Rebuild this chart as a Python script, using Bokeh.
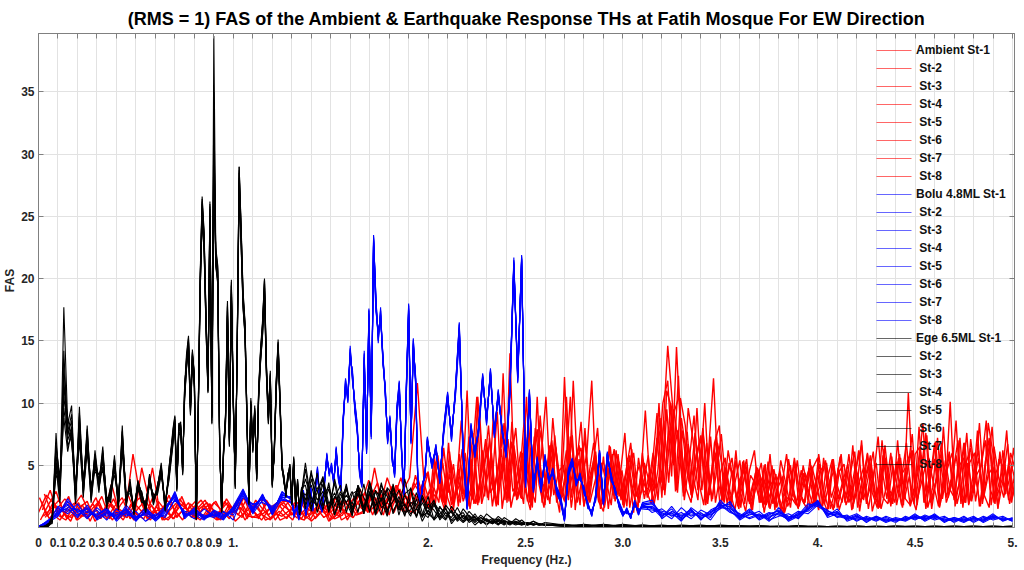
from bokeh.plotting import figure
from bokeh.models import (Range1d, FixedTicker, LinearAxis, Legend, LegendItem,
                          CustomJSTickFormatter, BoxAnnotation)
from bokeh.embed import file_html
from bokeh.resources import INLINE

# ---------------------------------------------------------------- texts
TITLE = "(RMS = 1) FAS of the Ambient & Earthquake Response THs at Fatih Mosque For EW Direction"
X_LABEL = "Frequency (Hz.)"
Y_LABEL = "FAS"

X_GRID_TICKS = [round(0.1 * i, 1) for i in range(51)]
X_LABELED = [0.0, 0.1, 0.2, 0.3, 0.4, 0.5, 0.6, 0.7, 0.8, 0.9, 1.0, 2.0, 2.5, 3.0, 3.5, 4.0, 4.5, 5.0]
X_LABEL_TEXT = ["0", "0.1", "0.2", "0.3", "0.4", "0.5", "0.6", "0.7", "0.8", "0.9", "1.",
                "2.", "2.5", "3.0", "3.5", "4.", "4.5", "5."]
Y_TICKS = [5, 10, 15, 20, 25, 30, 35]

GROUPS = ["Ambient", "Bolu 4.8ML", "Ege 6.5ML"]
STATIONS = ["St-1", "St-2", "St-3", "St-4", "St-5", "St-6", "St-7", "St-8"]


# ---------------------------------------------------------------- frequency sampling (Hz)
def sample_grid(start, step, count):
    return [round(start + step * i, 4) for i in range(count)]


RED_FREQ = sample_grid(0.0, 0.04, 50) + sample_grid(2.0, 0.025, 121)
RED_OFFSET = [0.0, 0.005, 0.010, 0.015, 0.020, 0.025, 0.030, 0.035]
BLUE_FREQ = (sample_grid(0.0, 0.05, 26) + sample_grid(1.30, 0.012, 59)
             + sample_grid(2.02, 0.02, 55) + sample_grid(3.15, 0.05, 38))
BLACK_FREQ = (sample_grid(0.01, 0.02, 35) + sample_grid(0.70, 0.01, 66)
              + sample_grid(1.37, 0.03, 42) + sample_grid(2.70, 0.1, 24))

# ---------------------------------------------------------------- Ambient (red) FAS
AMB_ST1 = [1.2, 2.6, 1.9, 0.8, 1.5, 0.6, 1.1, 1.9, 0.7, 2.2, 1.4, 0.9, 1.8, 2.4, 0.6, 1.3, 1.6, 0.9, 2.0, 1.5,
           0.8, 1.4, 1.9, 0.6, 1.0, 1.5, 2.1, 0.9, 0.8, 1.2, 1.7, 0.6, 0.9, 1.3, 2.0, 0.5, 1.1, 1.8, 0.7, 1.0,
           2.2, 1.1, 1.4, 3.0, 2.6, 1.0, 3.4, 1.6, 2.8, 1.9,
           4.5, 1.8, 3.1, 5.2, 2.4, 1.2, 3.9, 2.7, 11.0, 2.2, 6.4, 1.9, 3.6, 6.0, 2.0, 4.1, 7.4, 1.6, 3.5, 6.1,
           2.9, 1.4, 8.0, 4.6, 1.8, 6.6, 3.3, 1.2, 12.1, 3.0, 5.1, 6.6, 1.7, 3.8, 5.4, 2.1, 1.3, 4.8, 2.6, 5.9,
           1.8, 4.4, 3.0, 1.2, 5.5, 2.4, 3.6, 7.2, 2.4, 9.5, 4.1, 14.5, 6.3, 3.1, 2.0, 5.8, 7.4, 1.8, 3.9, 5.9,
           1.5, 4.8, 2.9, 1.4, 3.9, 4.6, 1.9, 2.8, 4.6, 1.2, 3.3, 3.8, 2.2, 1.0, 4.4, 2.6, 1.5, 5.0, 3.1, 1.8,
           4.2, 2.3, 1.3, 5.4, 3.4, 2.0, 4.6, 1.4, 2.9, 7.0, 2.1, 3.6, 5.2, 1.5, 3.1, 6.0, 2.2, 4.1, 4.8, 1.7,
           3.2, 6.4, 2.0, 4.3, 5.5, 1.6, 3.7, 6.1, 2.5, 4.9, 5.6, 1.9, 3.4, 5.6, 2.3, 4.2, 4.9, 1.5, 6.2, 3.3,
           5.0]
AMB_ST2 = [2.4, 0.9, 1.7, 1.3, 0.5, 2.0, 0.8, 1.4, 2.5, 0.7, 1.6, 1.1, 5.9, 2.2, 0.8, 1.7, 0.6, 1.0, 2.3, 1.4,
           2.1, 0.7, 1.6, 1.0, 2.3, 1.3, 0.8, 2.0, 1.7, 0.6, 0.9, 1.9, 1.4, 0.8, 0.6, 2.2, 1.5, 0.9, 2.4, 1.3,
           1.0, 2.7, 1.3, 4.8, 1.5, 2.9, 2.1, 1.2, 3.6, 2.6,
           1.6, 5.6, 3.2, 2.0, 6.8, 1.4, 4.7, 2.1, 3.3, 7.6, 1.8, 6.2, 2.4, 3.9, 9.3, 1.5, 4.2, 6.9, 2.2, 3.4,
           10.5, 1.9, 5.1, 7.8, 2.6, 3.5, 6.5, 2.0, 4.4, 10.5, 1.4, 5.0, 7.1, 2.0, 3.6, 5.2, 1.6, 4.1, 6.3, 2.5,
           3.8, 4.9, 1.2, 5.6, 2.8, 3.2, 6.0, 2.2, 7.6, 14.6, 9.8, 2.8, 7.8, 4.4, 2.4, 9.6, 3.0, 6.8, 2.1, 4.4,
           7.5, 3.2, 1.6, 5.4, 2.7, 1.3, 4.2, 3.5, 2.0, 5.1, 1.5, 3.4, 4.4, 1.2, 2.7, 5.6, 2.9, 1.9, 4.8, 3.0,
           1.4, 5.6, 2.6, 1.4, 4.8, 3.3, 2.2, 6.6, 1.6, 3.8, 5.9, 1.3, 2.9, 4.7, 2.3, 5.7, 1.8, 3.9, 6.8, 2.6,
           1.4, 4.5, 7.6, 2.0, 3.6, 5.2, 2.8, 10.1, 1.7, 4.0, 6.8, 2.1, 3.5, 8.4, 2.6, 1.6, 6.5, 3.9, 2.4, 5.2,
           3.0]
AMB_ST3 = [0.6, 1.8, 2.9, 1.1, 0.8, 1.6, 2.1, 0.5, 1.3, 1.9, 0.7, 1.5, 0.6, 4.8, 2.0, 1.0, 1.7, 0.7, 1.2, 2.0,
           0.6, 1.8, 0.9, 1.3, 2.0, 0.5, 1.1, 1.6, 0.7, 2.2, 1.2, 0.9, 1.4, 2.0, 0.7, 1.2, 1.9, 0.5, 1.0, 2.1,
           1.4, 3.1, 1.2, 2.4, 1.0, 3.3, 1.7, 2.5, 1.1, 2.9,
           1.5, 5.3, 2.7, 1.4, 6.1, 2.3, 3.4, 5.0, 1.7, 6.6, 2.0, 4.3, 8.2, 3.1, 1.8, 12.4, 2.6, 6.7, 2.3, 5.5,
           3.8, 1.6, 10.5, 2.0, 4.9, 7.0, 2.4, 3.6, 6.2, 1.6, 4.7, 8.5, 2.2, 3.7, 6.1, 1.5, 3.2, 5.1, 2.1, 4.0,
           7.6, 1.6, 3.9, 5.0, 2.3, 4.4, 2.9, 10.0, 3.0, 8.1, 5.0, 12.2, 2.5, 6.7, 4.1, 2.2, 8.0, 1.9, 5.2, 6.3,
           2.4, 4.1, 5.6, 2.0, 3.1, 4.7, 1.4, 3.6, 5.2, 1.8, 2.9, 4.3, 1.3, 3.5, 5.0, 2.0, 2.7, 4.4, 1.6, 3.4,
           5.1, 1.9, 3.7, 4.6, 1.4, 2.8, 5.9, 2.1, 3.5, 4.8, 1.5, 3.9, 7.3, 2.4, 1.9, 5.0, 3.2, 1.6, 4.4, 7.5,
           2.2, 3.8, 5.4, 1.5, 4.1, 6.1, 2.0, 3.3, 5.8, 2.8, 2.0, 7.1, 4.0, 1.7, 5.3, 6.7, 2.2, 3.9, 5.1, 1.9,
           4.2]
AMB_ST4 = [2.1, 0.7, 1.5, 2.3, 1.6, 0.9, 1.3, 2.4, 0.8, 3.5, 1.1, 0.8, 1.9, 1.2, 0.6, 2.1, 1.3, 0.7, 2.5, 1.0,
           1.5, 2.2, 1.0, 0.6, 1.8, 1.3, 2.4, 0.8, 1.1, 2.0, 0.6, 1.5, 2.3, 0.8, 1.6, 1.1, 2.4, 0.6, 1.7, 1.2,
           0.8, 1.8, 3.8, 1.1, 2.2, 1.6, 3.1, 1.3, 4.2, 2.0,
           3.0, 2.4, 4.6, 1.6, 5.4, 3.3, 2.0, 6.0, 1.5, 4.1, 9.0, 2.5, 7.2, 3.0, 5.2, 8.4, 2.1, 6.6, 4.0, 1.9,
           8.6, 2.6, 5.9, 3.5, 2.2, 8.8, 4.3, 2.6, 5.0, 7.4, 2.0, 3.8, 6.0, 11.8, 2.4, 5.2, 3.7, 1.8, 6.2, 2.2,
           4.5, 6.8, 2.5, 3.6, 9.4, 3.2, 5.4, 8.8, 2.6, 7.1, 9.4, 10.6, 2.2, 5.3, 9.0, 3.6, 1.8, 6.2, 12.0, 3.5,
           2.1, 6.2, 3.9, 1.7, 5.3, 2.6, 1.4, 4.8, 3.7, 2.2, 5.0, 1.6, 3.3, 5.9, 2.4, 1.8, 4.6, 2.8, 5.0, 2.3,
           3.6, 5.4, 1.5, 3.0, 5.7, 2.0, 4.2, 6.1, 1.3, 3.9, 5.3, 2.6, 1.7, 6.3, 2.0, 3.4, 5.6, 1.8, 10.8, 2.6,
           4.5, 8.4, 1.6, 3.2, 7.2, 2.3, 4.7, 6.0, 1.9, 3.6, 7.6, 2.1, 4.2, 5.0, 8.6, 1.8, 4.4, 5.5, 2.7, 6.0,
           4.6]
AMB_ST5 = [1.4, 3.0, 1.0, 0.6, 1.7, 2.6, 1.2, 0.9, 1.5, 0.6, 1.8, 2.6, 1.1, 0.7, 1.8, 0.9, 2.2, 1.4, 0.6, 1.9,
           1.2, 0.8, 2.0, 1.4, 0.7, 1.9, 0.6, 1.5, 2.3, 1.0, 1.6, 2.0, 1.0, 1.6, 2.3, 0.7, 1.4, 2.0, 0.9, 1.5,
           2.4, 1.5, 2.2, 3.6, 1.3, 2.1, 4.0, 1.7, 2.4, 3.5,
           1.4, 6.0, 2.1, 4.4, 1.8, 3.0, 8.6, 2.5, 5.5, 1.9, 4.0, 7.1, 2.8, 3.6, 5.9, 2.2, 14.0, 2.5, 4.1, 9.0,
           2.0, 7.3, 3.4, 1.6, 6.4, 2.6, 4.5, 5.0, 2.2, 11.8, 3.6, 6.2, 2.0, 4.9, 8.0, 1.9, 3.3, 5.9, 2.6, 4.6,
           1.7, 6.3, 2.5, 4.2, 3.0, 1.9, 5.5, 8.4, 4.6, 10.0, 2.9, 10.4, 8.2, 3.3, 7.6, 4.0, 10.0, 2.6, 6.8, 8.2,
           2.0, 5.2, 3.4, 1.5, 5.4, 2.1, 3.7, 4.5, 1.6, 5.3, 1.9, 3.2, 4.1, 1.7, 2.6, 5.4, 2.2, 1.5, 4.9, 3.3,
           1.5, 5.2, 2.4, 3.8, 5.9, 1.8, 2.9, 5.1, 2.0, 3.6, 5.8, 2.4, 1.6, 6.6, 3.0, 2.0, 5.9, 2.3, 4.1, 1.9,
           8.1, 2.0, 5.6, 3.4, 1.7, 8.1, 2.4, 4.5, 7.0, 1.6, 5.2, 2.9, 7.8, 1.9, 4.4, 8.1, 2.5, 3.8, 7.8, 2.0,
           4.4]
AMB_ST6 = [0.9, 1.5, 2.2, 0.7, 1.2, 1.8, 0.5, 1.9, 1.1, 2.3, 0.9, 1.3, 0.8, 1.6, 4.8, 1.0, 0.6, 1.3, 2.0, 0.8,
           1.5, 2.0, 1.2, 0.7, 1.7, 1.0, 2.2, 1.3, 0.6, 1.5, 2.0, 1.2, 0.6, 2.1, 1.0, 1.6, 0.8, 1.3, 2.2, 0.6,
           1.7, 2.5, 1.4, 2.0, 3.0, 1.2, 2.8, 4.0, 11.6, 2.2,
           3.6, 5.8, 2.2, 4.0, 1.9, 3.1, 6.3, 2.6, 5.2, 10.5, 2.3, 6.8, 3.9, 1.7, 6.3, 3.0, 5.2, 8.0, 2.4, 6.5,
           3.3, 2.0, 9.0, 4.1, 1.9, 7.4, 3.2, 2.1, 6.7, 2.7, 5.5, 1.7, 4.2, 6.8, 2.2, 5.7, 1.5, 4.9, 3.4, 2.2,
           5.6, 3.1, 1.6, 6.0, 2.6, 4.8, 9.2, 3.6, 11.0, 9.6, 3.0, 8.8, 6.0, 2.6, 5.4, 7.2, 2.4, 7.3, 2.0, 4.4,
           5.6, 1.7, 3.6, 5.4, 1.9, 4.6, 6.2, 2.0, 5.0, 1.6, 4.7, 2.5, 1.3, 5.5, 3.0, 1.6, 4.4, 2.2, 4.8, 5.6,
           1.7, 4.0, 5.5, 1.6, 3.2, 4.4, 2.2, 5.0, 6.6, 1.9, 4.8, 2.4, 3.7, 5.6, 1.7, 4.2, 5.6, 2.3, 1.8, 5.9,
           6.5, 2.3, 3.6, 6.8, 1.7, 4.1, 5.7, 2.2, 3.4, 6.8, 1.8, 4.5, 6.2, 2.4, 8.4, 5.9, 1.6, 3.7, 6.7, 2.5,
           3.9]
AMB_ST7 = [2.7, 1.1, 0.6, 1.6, 2.0, 0.9, 1.4, 2.1, 0.7, 1.7, 2.4, 0.7, 1.5, 2.2, 0.9, 1.2, 2.6, 0.8, 1.6, 1.1,
           0.6, 1.5, 2.1, 0.9, 1.4, 2.4, 0.7, 1.8, 1.0, 0.6, 1.9, 2.2, 1.3, 0.7, 1.9, 1.0, 1.6, 0.7, 1.4, 2.2,
           1.0, 1.2, 2.4, 1.6, 4.0, 2.2, 1.3, 2.7, 3.8, 1.5,
           3.2, 2.0, 6.4, 2.8, 5.1, 1.7, 5.9, 3.0, 2.3, 10.5, 4.8, 6.0, 1.7, 4.4, 7.6, 2.0, 8.5, 3.4, 2.3, 6.8,
           1.8, 4.2, 5.6, 10.5, 2.5, 6.4, 3.6, 2.0, 7.3, 4.5, 1.8, 8.0, 2.4, 5.6, 3.9, 1.8, 6.6, 2.3, 5.3, 1.6,
           4.3, 6.0, 2.1, 3.4, 5.8, 2.0, 4.7, 10.0, 11.8, 5.2, 7.8, 4.0, 7.7, 2.5, 4.6, 6.6, 2.1, 3.9, 7.5, 2.5,
           4.9, 2.0, 6.2, 1.6, 5.2, 2.2, 4.4, 3.3, 1.8, 5.9, 1.4, 4.6, 2.6, 2.2, 5.3, 1.7, 3.6, 4.6, 2.0, 5.9,
           3.0, 1.5, 5.5, 2.3, 3.8, 5.1, 1.5, 4.4, 2.3, 6.0, 2.8, 1.6, 7.0, 3.1, 2.0, 5.3, 1.8, 4.2, 6.0, 2.4,
           5.8, 1.5, 4.1, 6.9, 2.0, 5.4, 3.0, 2.3, 7.2, 2.0, 5.2, 6.0, 1.7, 4.3, 7.2, 2.0, 5.5, 4.8, 2.2, 6.4,
           3.6]
AMB_ST8 = [0.8, 2.0, 1.3, 2.5, 0.6, 1.6, 1.2, 0.8, 2.0, 1.3, 0.6, 1.9, 0.8, 1.3, 2.7, 0.6, 1.4, 2.1, 0.9, 1.6,
           2.2, 1.1, 0.6, 2.1, 1.2, 1.6, 0.9, 2.2, 1.4, 0.7, 1.3, 0.7, 2.0, 1.1, 0.6, 1.8, 1.2, 2.3, 0.6, 1.0,
           1.9, 2.8, 1.0, 2.6, 1.5, 3.4, 1.8, 1.2, 2.9, 4.4,
           1.7, 4.4, 1.8, 4.3, 2.0, 5.9, 2.4, 7.3, 1.9, 3.2, 5.4, 2.2, 9.1, 2.6, 4.8, 7.1, 2.9, 3.6, 6.0, 2.1,
           5.2, 7.9, 2.4, 4.0, 6.6, 2.0, 3.8, 10.5, 2.4, 5.5, 6.4, 2.2, 4.1, 5.8, 1.9, 3.3, 6.5, 2.6, 4.7, 2.1,
           5.8, 3.1, 2.0, 5.2, 3.6, 1.9, 4.0, 8.6, 3.6, 9.5, 6.8, 2.8, 9.6, 7.0, 3.0, 7.9, 4.2, 2.3, 6.8, 5.0,
           1.9, 4.6, 2.3, 4.0, 5.5, 1.5, 4.9, 2.0, 4.5, 2.8, 1.8, 5.4, 3.6, 1.6, 4.9, 2.6, 2.0, 5.5, 1.7, 4.5,
           5.0, 2.2, 1.6, 4.5, 5.1, 2.0, 3.4, 6.2, 2.2, 4.1, 6.1, 1.5, 5.8, 3.3, 1.9, 7.0, 2.3, 5.4, 6.2, 1.8,
           4.8, 7.4, 2.0, 4.0, 6.8, 2.4, 3.9, 8.6, 1.9, 5.1, 6.4, 2.1, 4.6, 7.0, 3.1, 1.9, 6.1, 2.6, 5.6, 4.0,
           2.8]

# ---------------------------------------------------------------- Bolu 4.8ML (blue) FAS
BOLU_ST1 = [0.05, 0.3, 1.2, 1.8, 1.0, 1.5, 0.7, 1.3, 0.8, 1.6, 0.6, 1.2, 0.7, 1.5, 2.6, 0.9, 1.3, 0.7, 1.2, 0.8,
            1.4, 2.9, 1.6, 2.5, 1.3, 2.7,
            2.2, 1.0, 1.8, 0.7, 1.5, 2.8, 1.1, 2.0, 3.2, 1.6, 3.0, 4.6, 2.0, 1.4, 3.6, 5.7, 4.4, 4.9, 3.6, 6.2,
            4.0, 3.2, 8.6, 11.6, 10.4, 14.1, 12.1, 9.7, 8.0, 4.5, 3.5, 13.7, 6.2, 17.2, 7.5, 23.5, 18.0, 15.3,
            17.2, 13.5, 11.0, 7.0, 8.6, 5.5, 4.3, 9.4, 11.4, 6.0, 2.7, 11.0, 17.8, 7.0, 14.8, 11.8, 3.0, 1.9,
            3.4, 4.3, 7.0,
            5.0, 6.4, 3.8, 7.8, 10.6, 7.3, 10.9, 16.1, 5.9, 1.6, 8.1, 5.9, 8.0, 12.1, 8.6, 12.5, 7.5, 10.8, 7.8,
            5.9, 11.0, 21.5, 12.0, 21.9, 3.5, 10.8, 3.1, 5.4, 3.1, 5.6, 3.8, 4.5, 3.0, 2.2, 0.6, 4.4, 5.4, 3.6,
            4.1, 3.0, 1.8, 1.1, 2.4, 6.2, 2.0, 5.9, 4.0, 3.0, 1.8, 1.0, 1.4, 0.8, 2.0, 1.2, 1.8,
            1.9, 0.9, 1.5, 0.6, 1.3, 0.8, 1.1, 2.0, 1.6, 0.7, 1.3, 0.6, 1.0, 1.4, 0.5, 0.9, 1.7, 2.1, 1.0, 1.3,
            0.6, 0.9, 0.5, 0.8, 0.4, 0.7, 0.5, 0.9, 0.6, 1.1, 0.5, 0.7, 0.4, 0.8, 0.5, 1.0, 0.6, 0.7]
BOLU_ST2 = [0.1, 0.5, 1.6, 1.1, 1.9, 0.8, 1.4, 0.6, 1.5, 0.9, 1.3, 0.5, 1.1, 0.8, 2.3, 1.2, 0.7, 1.5, 0.9, 1.3,
            0.6, 2.6, 1.1, 2.2, 1.7, 2.3,
            2.0, 1.3, 1.5, 0.9, 1.8, 2.5, 1.4, 1.7, 3.5, 1.3, 3.3, 4.2, 2.3, 1.7, 3.9, 5.3, 4.7, 4.5, 3.9, 5.8,
            4.3, 3.5, 9.0, 11.0, 10.9, 13.5, 12.6, 9.2, 7.6, 4.8, 3.8, 12.9, 6.6, 16.4, 7.9, 22.4, 17.3, 15.9,
            16.5, 14.0, 10.5, 7.4, 8.2, 5.9, 4.0, 9.0, 10.8, 6.4, 2.9, 10.4, 16.9, 7.4, 14.1, 12.2, 3.3, 2.2,
            3.1, 4.6, 6.6,
            5.3, 6.0, 4.1, 7.4, 10.1, 7.7, 10.4, 15.3, 6.3, 1.9, 7.7, 6.2, 7.6, 11.6, 9.0, 12.0, 7.9, 10.3, 8.1,
            5.6, 10.5, 20.6, 12.6, 21.0, 3.9, 10.2, 3.4, 5.0, 3.4, 5.2, 4.1, 4.2, 3.3, 2.5, 0.9, 4.1, 5.1, 3.9,
            3.8, 3.3, 1.5, 1.4, 2.1, 5.8, 2.3, 5.5, 4.3, 2.7, 2.1, 1.3, 1.1, 1.1, 1.7, 1.5, 1.5,
            1.4, 1.2, 0.7, 1.6, 0.9, 1.2, 0.6, 1.7, 1.9, 1.0, 0.8, 1.1, 0.5, 1.2, 0.8, 1.3, 1.1, 1.8, 1.4, 0.8,
            1.0, 0.5, 0.9, 0.6, 0.7, 0.4, 0.9, 0.6, 1.0, 0.7, 0.9, 0.4, 0.8, 0.5, 0.9, 0.6, 0.8, 0.5]
BOLU_ST3 = [0.0, 0.4, 0.9, 2.1, 1.3, 1.2, 0.9, 1.6, 0.5, 1.3, 0.8, 1.5, 0.5, 1.2, 2.9, 0.7, 1.5, 0.9, 1.0, 0.6,
            1.7, 3.1, 1.3, 2.7, 1.0, 2.4,
            2.5, 0.8, 2.0, 1.0, 1.3, 3.0, 0.9, 2.3, 2.9, 1.9, 2.8, 4.9, 1.8, 1.2, 3.3, 6.0, 4.1, 5.2, 3.3, 6.5,
            3.7, 2.9, 8.2, 12.0, 10.0, 14.6, 11.7, 10.1, 8.4, 4.2, 3.2, 14.2, 5.9, 17.6, 7.1, 23.0, 18.6, 14.8,
            17.7, 13.1, 11.4, 6.7, 9.0, 5.2, 4.6, 9.8, 11.8, 5.7, 2.5, 11.5, 17.4, 6.7, 15.2, 11.4, 2.8, 1.7,
            3.7, 4.0, 7.3,
            4.7, 6.7, 3.5, 8.1, 10.9, 6.9, 11.2, 16.5, 5.6, 1.4, 8.4, 5.6, 8.3, 12.4, 8.2, 12.8, 7.2, 11.1, 7.5,
            6.2, 11.4, 21.2, 11.6, 21.6, 3.2, 11.1, 2.8, 5.7, 2.8, 5.9, 3.5, 4.8, 2.7, 2.0, 0.5, 4.7, 5.6, 3.3,
            4.4, 2.7, 2.0, 0.9, 2.7, 6.0, 1.8, 6.1, 3.7, 3.2, 1.6, 0.9, 1.6, 0.7, 2.2, 1.0, 2.0,
            2.2, 0.7, 1.3, 0.9, 1.5, 0.6, 1.4, 1.8, 1.2, 0.9, 1.5, 0.8, 1.2, 1.0, 0.7, 1.1, 1.4, 2.2, 0.8, 1.1,
            0.8, 1.1, 0.6, 0.9, 0.5, 0.8, 0.6, 1.1, 0.5, 0.9, 0.6, 0.8, 0.5, 0.7, 0.6, 1.1, 0.5, 0.8]
BOLU_ST4 = [0.1, 0.2, 1.4, 1.5, 0.8, 1.8, 0.6, 1.1, 1.0, 1.4, 0.5, 1.4, 0.9, 1.7, 2.4, 1.1, 1.0, 0.6, 1.4, 1.0,
            1.2, 2.7, 1.8, 2.3, 1.5, 2.5,
            1.9, 1.2, 1.6, 0.6, 1.7, 2.6, 1.3, 1.8, 3.0, 1.4, 3.2, 4.4, 2.2, 1.5, 3.8, 5.5, 4.6, 4.7, 3.8, 6.0,
            4.2, 3.4, 8.8, 11.3, 10.7, 13.8, 12.4, 9.4, 7.8, 4.7, 3.7, 13.2, 6.4, 16.8, 7.7, 22.9, 17.6, 15.6,
            16.8, 13.8, 10.7, 7.2, 8.4, 5.7, 4.1, 9.2, 11.1, 6.2, 2.8, 10.7, 17.2, 7.2, 14.4, 12.0, 3.1, 2.0,
            3.2, 4.5, 6.8,
            5.1, 6.2, 3.9, 7.6, 10.4, 7.5, 10.6, 15.8, 6.1, 1.7, 7.9, 6.0, 7.8, 11.9, 8.8, 12.3, 7.7, 10.6, 8.0,
            5.8, 10.8, 21.0, 12.3, 21.4, 3.7, 10.5, 3.2, 5.2, 3.2, 5.4, 3.9, 4.4, 3.1, 2.3, 0.7, 4.3, 5.2, 3.7,
            4.0, 3.1, 1.7, 1.2, 2.3, 6.0, 2.1, 5.7, 4.1, 2.9, 1.9, 1.1, 1.3, 0.9, 1.9, 1.3, 1.7,
            1.7, 1.0, 1.2, 0.5, 1.6, 1.0, 0.8, 2.2, 1.4, 0.6, 1.1, 0.9, 0.7, 1.6, 0.6, 1.0, 1.9, 1.7, 1.2, 0.9,
            0.7, 1.0, 0.4, 0.9, 0.6, 0.6, 0.7, 0.8, 0.8, 1.0, 0.4, 0.8, 0.6, 0.9, 0.4, 0.8, 0.7, 0.6]
BOLU_ST5 = [0.0, 0.6, 1.0, 2.3, 1.2, 1.0, 1.1, 1.5, 0.6, 1.8, 0.9, 1.0, 0.6, 1.3, 2.8, 0.8, 1.6, 0.8, 1.1, 0.7,
            1.5, 3.0, 1.4, 2.6, 1.2, 2.8,
            2.3, 0.9, 1.9, 0.8, 1.4, 2.9, 1.0, 2.1, 3.3, 1.7, 2.9, 4.7, 1.9, 1.3, 3.5, 5.8, 4.3, 5.0, 3.5, 6.3,
            3.9, 3.1, 8.5, 11.8, 10.2, 14.3, 11.9, 9.9, 8.1, 4.4, 3.4, 13.9, 6.0, 17.4, 7.3, 23.3, 18.3, 15.1,
            17.4, 13.3, 11.2, 6.9, 8.8, 5.4, 4.4, 9.6, 11.6, 5.9, 2.6, 11.2, 18.0, 6.9, 15.0, 11.6, 2.9, 1.8,
            3.5, 4.2, 7.1,
            4.9, 6.5, 3.7, 7.9, 10.7, 7.1, 11.0, 16.3, 5.8, 1.5, 8.2, 5.8, 8.1, 12.2, 8.4, 12.6, 7.4, 10.9, 7.7,
            6.0, 11.2, 21.7, 11.8, 21.8, 3.4, 10.9, 3.0, 5.5, 3.0, 5.7, 3.7, 4.6, 2.9, 2.1, 0.6, 4.5, 5.5, 3.5,
            4.2, 2.9, 1.9, 1.0, 2.5, 6.1, 1.9, 6.0, 3.9, 3.1, 1.7, 1.0, 1.5, 0.8, 2.1, 1.1, 1.9,
            1.2, 1.5, 0.9, 1.2, 0.7, 1.4, 1.0, 1.5, 2.1, 0.8, 1.0, 1.3, 0.6, 0.9, 1.1, 0.7, 1.5, 2.0, 0.9, 1.5,
            0.5, 0.8, 0.7, 0.6, 0.8, 0.5, 0.8, 0.7, 0.9, 0.6, 0.8, 0.6, 0.7, 0.6, 0.7, 0.9, 0.6, 0.7]
BOLU_ST6 = [0.1, 0.3, 1.7, 1.3, 1.5, 0.7, 1.6, 0.9, 1.2, 1.1, 0.7, 1.6, 0.8, 1.0, 2.2, 1.3, 1.1, 1.0, 0.8, 1.2,
            1.0, 2.4, 1.9, 2.0, 1.6, 2.2,
            2.1, 1.1, 1.7, 0.8, 1.6, 2.7, 1.2, 1.9, 3.1, 1.5, 3.1, 4.5, 2.1, 1.5, 3.7, 5.6, 4.5, 4.8, 3.7, 6.1,
            4.1, 3.3, 8.7, 11.4, 10.6, 13.9, 12.3, 9.5, 7.9, 4.6, 3.6, 13.4, 6.3, 17.0, 7.6, 23.1, 17.8, 15.5,
            17.0, 13.7, 10.9, 7.1, 8.5, 5.6, 4.2, 9.3, 11.2, 6.1, 2.8, 10.8, 17.5, 7.1, 14.6, 11.9, 3.1, 2.0,
            3.3, 4.4, 6.9,
            5.2, 6.3, 4.0, 7.7, 10.5, 7.4, 10.7, 15.9, 6.0, 1.8, 8.0, 6.1, 7.9, 12.0, 8.7, 12.4, 7.6, 10.7, 7.9,
            5.7, 10.9, 21.2, 12.1, 21.5, 3.6, 10.6, 3.3, 5.3, 3.3, 5.5, 3.8, 4.3, 3.2, 2.4, 0.8, 4.2, 5.3, 3.8,
            3.9, 3.2, 1.6, 1.3, 2.2, 5.9, 2.2, 5.6, 4.2, 2.8, 2.0, 1.2, 1.2, 1.0, 1.8, 1.4, 1.6,
            1.6, 0.8, 1.7, 0.7, 1.2, 0.9, 1.3, 1.6, 1.5, 1.1, 0.7, 1.0, 0.9, 1.1, 0.6, 1.2, 1.3, 1.9, 1.1, 1.0,
            0.9, 0.6, 0.8, 0.5, 0.9, 0.6, 0.6, 1.0, 0.7, 0.8, 0.7, 0.5, 0.9, 0.4, 0.8, 0.7, 0.9, 0.5]
BOLU_ST7 = [0.0, 0.4, 1.3, 1.9, 0.9, 1.6, 0.8, 1.2, 0.7, 1.5, 0.6, 1.3, 0.7, 1.4, 2.5, 1.0, 1.2, 0.8, 1.3, 0.9,
            1.3, 2.8, 1.5, 2.4, 1.4, 2.6,
            2.4, 0.9, 1.9, 0.6, 1.5, 2.9, 1.0, 2.1, 3.1, 1.7, 2.9, 4.8, 1.9, 1.3, 3.5, 5.9, 4.3, 5.1, 3.5, 6.4,
            3.8, 3.0, 8.4, 11.9, 10.1, 14.4, 11.8, 10.0, 8.2, 4.3, 3.3, 14.0, 6.0, 17.5, 7.3, 23.4, 18.4, 15.0,
            17.5, 13.2, 11.3, 6.8, 8.9, 5.3, 4.5, 9.7, 11.7, 5.8, 2.6, 11.3, 17.9, 6.8, 15.1, 11.5, 2.9, 1.8,
            3.6, 4.1, 7.2,
            4.8, 6.6, 3.6, 8.0, 10.8, 7.0, 11.1, 16.4, 5.7, 1.5, 8.3, 5.7, 8.2, 12.3, 8.3, 12.7, 7.3, 11.0, 7.6,
            6.1, 11.3, 21.4, 11.7, 21.7, 3.3, 11.0, 2.9, 5.6, 2.9, 5.8, 3.6, 4.7, 2.8, 2.1, 0.5, 4.6, 5.5, 3.4,
            4.3, 2.8, 2.0, 0.9, 2.6, 6.1, 1.8, 6.0, 3.8, 3.1, 1.7, 0.9, 1.5, 0.7, 2.1, 1.0, 1.9,
            2.0, 1.1, 1.0, 0.8, 1.4, 0.7, 1.2, 1.9, 1.3, 0.8, 1.4, 0.7, 1.1, 1.3, 0.9, 0.8, 1.6, 2.0, 1.1, 1.2,
            0.7, 0.9, 0.6, 0.8, 0.5, 0.7, 0.6, 0.9, 0.6, 1.0, 0.5, 0.7, 0.5, 0.8, 0.5, 0.9, 0.6, 0.7]
BOLU_ST8 = [0.1, 0.5, 1.1, 1.6, 1.4, 1.3, 1.0, 1.4, 0.9, 1.2, 0.8, 1.1, 0.9, 1.6, 2.7, 0.9, 1.4, 0.7, 1.0, 0.9,
            1.6, 2.8, 1.2, 2.6, 1.1, 2.9,
            2.2, 1.1, 1.7, 0.8, 1.5, 2.7, 1.2, 1.9, 3.3, 1.5, 3.1, 4.5, 2.1, 1.4, 3.7, 5.6, 4.5, 4.8, 3.7, 6.1,
            4.1, 3.3, 8.6, 11.5, 10.5, 14.0, 12.2, 9.6, 7.9, 4.6, 3.5, 13.6, 6.2, 17.1, 7.5, 23.2, 17.9, 15.4,
            17.1, 13.6, 10.9, 7.0, 8.6, 5.5, 4.3, 9.4, 11.3, 6.0, 2.7, 10.9, 17.6, 7.0, 14.7, 11.8, 3.0, 1.9,
            3.4, 4.3, 7.0,
            5.0, 6.4, 3.8, 7.8, 10.6, 7.3, 10.9, 16.0, 5.9, 1.6, 8.1, 5.9, 8.0, 12.1, 8.6, 12.5, 7.5, 10.8, 7.8,
            5.9, 11.0, 21.3, 12.0, 21.6, 3.5, 10.8, 3.1, 5.4, 3.1, 5.6, 3.8, 4.5, 3.0, 2.2, 0.6, 4.4, 5.4, 3.6,
            4.1, 3.0, 1.8, 1.1, 2.4, 6.2, 2.0, 5.9, 4.0, 3.0, 1.8, 1.0, 1.4, 0.8, 2.0, 1.2, 1.8,
            1.5, 1.3, 1.1, 1.0, 1.0, 1.1, 0.9, 1.8, 1.7, 0.9, 1.2, 1.0, 0.8, 1.2, 0.8, 1.0, 1.5, 1.9, 1.3, 1.1,
            0.8, 0.7, 0.7, 0.7, 0.6, 0.6, 0.7, 0.8, 0.7, 0.9, 0.6, 0.6, 0.6, 0.7, 0.6, 0.8, 0.7, 0.6]

# ---------------------------------------------------------------- Ege 6.5ML (black) FAS
EGE_ST1 = [0.0, 0.1, 0.1, 0.4, 7.6, 2.5, 17.7, 8.3, 9.8, 2.2, 9.7, 3.0, 8.2, 2.4, 6.2, 3.5, 6.5, 1.8, 2.6, 5.8,
           1.6, 8.2, 2.0, 3.4, 1.2, 3.8, 2.6, 1.4, 4.3, 2.0, 3.2, 5.0, 1.5, 4.6, 7.7,
           8.9, 3.2, 8.0, 8.3, 4.5, 11.0, 13.7, 15.2, 9.6, 14.1, 12.0, 0.6, 9.5, 20.1, 26.4, 23.6, 16.9, 11.6,
           26.0, 8.9, 39.5, 22.3, 20.9, 6.7, 1.4, 6.2, 9.0, 18.0, 7.0, 19.7, 10.2, 3.5, 14.8, 29.0, 24.1, 18.8,
           16.4, 8.9, 2.1, 10.2, 6.5, 9.6, 4.0, 11.0, 14.2, 16.4, 19.9, 13.0, 8.9, 12.4, 3.5, 6.0, 11.6, 14.9,
           10.2, 5.0, 3.8, 2.7, 4.0, 4.9, 2.0, 5.5, 1.8, 3.6, 1.2, 2.8,
           5.2, 2.0, 3.1, 3.8, 1.5, 2.4, 3.4, 1.2, 2.7, 3.0, 1.6, 3.6, 2.2, 1.0, 3.2, 2.6, 1.4, 3.9, 1.8, 0.9,
           2.6, 1.5, 2.2, 0.8, 1.8, 1.2, 0.6, 1.5, 0.9, 0.5, 1.0, 0.6, 0.4, 0.9, 0.5, 0.3, 0.7, 0.4, 0.3, 0.5,
           0.2, 0.4,
           0.2, 0.1, 0.25, 0.1, 0.15, 0.05, 0.2, 0.1, 0.15, 0.05, 0.1, 0.05, 0.1, 0.05, 0.1, 0.05, 0.1, 0.05,
           0.1, 0.05, 0.1, 0.05, 0.1, 0.05]
EGE_ST2 = [0.0, 0.0, 0.2, 0.6, 5.9, 3.1, 14.2, 7.4, 8.6, 2.8, 8.5, 3.6, 7.4, 2.0, 5.6, 3.0, 5.8, 2.3, 2.2, 5.1,
           2.1, 7.1, 2.5, 3.0, 1.6, 3.4, 2.2, 1.8, 3.9, 2.4, 2.9, 4.5, 1.9, 4.2, 7.0,
           8.2, 3.8, 7.4, 7.6, 5.0, 10.2, 12.8, 14.3, 9.0, 13.2, 11.2, 1.0, 8.8, 18.9, 24.8, 22.2, 15.8, 10.8,
           24.5, 8.3, 35.0, 21.0, 19.6, 6.2, 1.8, 5.8, 8.4, 16.9, 6.5, 18.5, 9.6, 3.9, 13.9, 27.3, 22.6, 17.6,
           15.4, 8.3, 2.5, 9.6, 6.0, 9.0, 4.4, 10.3, 13.3, 15.4, 18.7, 12.2, 8.3, 11.6, 3.9, 5.6, 10.9, 14.0,
           9.6, 4.6, 4.2, 2.4, 4.4, 4.5, 2.4, 5.0, 2.2, 3.3, 1.5, 3.1,
           1.8, 4.6, 1.2, 2.5, 3.3, 1.7, 2.9, 2.0, 1.0, 3.4, 2.4, 1.3, 3.0, 2.2, 0.9, 3.5, 1.5, 2.7, 3.1, 0.8,
           2.4, 1.0, 2.0, 1.3, 0.7, 1.7, 1.0, 0.5, 1.3, 0.8, 0.4, 1.1, 0.7, 0.3, 0.8, 0.5, 0.3, 0.6, 0.2, 0.5,
           0.3, 0.2,
           0.1, 0.25, 0.1, 0.2, 0.05, 0.15, 0.1, 0.2, 0.05, 0.15, 0.05, 0.1, 0.05, 0.1, 0.05, 0.1, 0.05, 0.1,
           0.05, 0.1, 0.05, 0.1, 0.05, 0.1]
EGE_ST3 = [0.1, 0.0, 0.1, 0.8, 6.5, 4.0, 10.5, 7.9, 6.8, 3.4, 7.8, 2.6, 6.9, 3.1, 5.0, 4.2, 5.2, 1.5, 3.1, 4.6,
           2.5, 6.4, 1.7, 3.9, 1.0, 3.1, 2.9, 1.2, 3.6, 2.6, 2.7, 4.8, 1.3, 4.9, 7.3,
           8.6, 2.9, 8.4, 7.9, 4.2, 11.5, 13.2, 14.8, 9.9, 13.8, 12.5, 0.8, 9.1, 19.5, 25.6, 23.0, 16.3, 11.2,
           25.2, 9.2, 31.0, 21.6, 20.2, 7.0, 1.2, 6.5, 8.7, 17.4, 7.3, 19.1, 10.6, 3.2, 14.3, 28.1, 23.4, 18.2,
           15.9, 9.2, 1.9, 9.9, 6.8, 9.3, 3.8, 10.7, 13.8, 15.9, 19.3, 12.6, 9.2, 12.0, 3.3, 6.3, 11.2, 14.5,
           10.0, 5.3, 3.6, 3.0, 3.8, 5.1, 1.8, 5.2, 2.0, 3.9, 1.0, 2.6,
           4.7, 1.6, 2.8, 4.1, 1.9, 2.8, 1.5, 3.5, 1.1, 3.1, 1.6, 2.8, 1.0, 3.4, 2.5, 1.3, 2.2, 0.9, 3.2, 1.5,
           1.0, 2.5, 0.6, 1.6, 1.2, 0.8, 1.6, 0.7, 1.0, 0.6, 0.8, 0.5, 0.7, 0.6, 0.3, 0.5, 0.4, 0.3, 0.4, 0.2,
           0.3, 0.2,
           0.15, 0.2, 0.05, 0.25, 0.1, 0.1, 0.15, 0.05, 0.2, 0.1, 0.1, 0.05, 0.15, 0.05, 0.1, 0.1, 0.05, 0.1,
           0.1, 0.05, 0.1, 0.05, 0.1, 0.05]
EGE_ST4 = [0.0, 0.1, 0.3, 0.3, 4.8, 2.0, 12.0, 6.5, 7.5, 1.9, 8.9, 2.4, 7.7, 2.7, 5.4, 2.8, 6.0, 2.0, 2.4, 5.2,
           1.4, 7.5, 2.2, 3.1, 1.4, 3.5, 2.4, 1.6, 4.0, 1.8, 3.4, 4.6, 1.7, 4.3, 7.1,
           8.0, 3.5, 7.7, 8.0, 4.8, 10.5, 13.0, 14.6, 9.3, 13.5, 11.5, 0.9, 8.9, 19.2, 25.1, 22.6, 16.1, 11.0,
           24.9, 8.6, 33.0, 21.2, 19.9, 6.4, 1.6, 6.0, 8.5, 17.1, 6.7, 18.8, 9.8, 3.7, 14.1, 27.8, 23.0, 17.9,
           15.6, 8.6, 2.3, 9.8, 6.2, 9.2, 4.2, 10.5, 13.5, 15.6, 19.0, 12.4, 8.6, 11.8, 3.7, 5.8, 11.0, 14.2,
           9.8, 4.8, 4.0, 2.6, 4.2, 4.7, 2.2, 5.3, 1.9, 3.4, 1.4, 3.0,
           2.2, 4.3, 3.0, 1.4, 3.6, 1.0, 2.3, 3.2, 1.4, 2.8, 1.1, 3.7, 1.2, 3.0, 1.1, 3.1, 2.0, 1.0, 2.0, 1.9,
           0.5, 1.4, 0.6, 1.1, 1.6, 0.3, 0.9, 1.2, 0.4, 0.7, 0.6, 0.2, 0.6, 0.3, 0.5, 0.4, 0.2, 0.4, 0.3, 0.3,
           0.2, 0.3,
           0.2, 0.05, 0.2, 0.1, 0.2, 0.05, 0.15, 0.1, 0.1, 0.1, 0.05, 0.1, 0.05, 0.1, 0.05, 0.1, 0.05, 0.1,
           0.05, 0.1, 0.05, 0.1, 0.05, 0.1]
EGE_ST5 = [0.0, 0.0, 0.2, 0.5, 6.8, 3.4, 11.3, 8.8, 7.0, 2.6, 7.2, 3.9, 6.4, 2.2, 4.8, 3.8, 5.5, 2.5, 2.0, 4.9,
           1.8, 6.9, 2.8, 2.7, 1.8, 3.2, 2.0, 2.0, 3.7, 2.2, 3.0, 4.4, 2.1, 4.0, 6.8,
           8.4, 3.0, 7.9, 8.1, 4.4, 10.8, 13.4, 14.9, 9.5, 13.9, 11.8, 0.7, 9.3, 19.8, 26.0, 23.2, 16.6, 11.4,
           25.6, 8.8, 29.5, 21.9, 20.5, 6.6, 1.3, 6.1, 8.8, 17.7, 6.9, 19.4, 10.0, 3.4, 14.6, 28.5, 23.8, 18.5,
           16.1, 8.8, 2.0, 10.0, 6.4, 9.4, 3.9, 10.8, 14.0, 16.1, 19.6, 12.8, 8.8, 12.2, 3.4, 5.9, 11.4, 14.7,
           10.1, 4.9, 3.7, 2.8, 3.9, 4.8, 1.9, 5.4, 1.7, 3.5, 1.1, 2.7,
           3.9, 2.4, 1.7, 3.5, 1.2, 3.9, 1.8, 2.6, 1.9, 3.3, 1.3, 2.9, 1.7, 3.6, 1.1, 2.8, 1.4, 1.9, 1.1, 1.5,
           0.9, 1.3, 2.0, 0.6, 1.2, 0.5, 0.8, 0.4, 0.8, 0.2, 0.6, 0.3, 0.5, 0.2, 0.6, 0.3, 0.4, 0.3, 0.2, 0.3,
           0.2, 0.2,
           0.1, 0.15, 0.2, 0.05, 0.2, 0.1, 0.1, 0.15, 0.05, 0.1, 0.1, 0.05, 0.1, 0.05, 0.1, 0.05, 0.1, 0.05,
           0.1, 0.05, 0.1, 0.05, 0.1, 0.05]
EGE_ST6 = [0.1, 0.1, 0.1, 0.7, 5.4, 2.9, 9.6, 7.0, 8.1, 2.0, 8.0, 3.3, 7.1, 2.9, 5.8, 3.2, 4.9, 2.1, 2.8, 5.5,
           1.9, 7.8, 1.8, 3.6, 1.3, 3.6, 2.8, 1.5, 4.1, 2.1, 3.3, 4.9, 1.6, 4.4, 7.5,
           8.7, 3.4, 7.8, 8.2, 4.6, 11.2, 13.5, 15.0, 9.7, 14.0, 12.2, 0.7, 9.4, 20.0, 26.2, 23.4, 16.8, 11.5,
           25.8, 9.0, 31.8, 22.1, 20.7, 6.8, 1.3, 6.3, 8.9, 17.8, 7.1, 19.5, 10.3, 3.3, 14.7, 28.7, 23.9, 18.6,
           16.3, 9.0, 2.0, 10.1, 6.6, 9.5, 3.9, 10.9, 14.1, 16.3, 19.8, 12.9, 9.0, 12.3, 3.4, 6.1, 11.5, 14.8,
           10.1, 5.1, 3.7, 2.9, 3.9, 5.0, 1.9, 5.6, 1.7, 3.7, 1.1, 2.9,
           1.5, 3.9, 2.2, 2.9, 1.4, 3.6, 1.2, 3.1, 1.6, 2.7, 1.3, 3.3, 1.0, 2.4, 1.4, 2.1, 3.0, 1.7, 0.9, 2.3,
           0.8, 1.9, 1.4, 0.7, 1.5, 0.6, 1.1, 0.5, 0.9, 0.4, 0.8, 0.5, 0.3, 0.6, 0.4, 0.2, 0.5, 0.3, 0.2, 0.3,
           0.2, 0.2,
           0.25, 0.1, 0.15, 0.1, 0.1, 0.15, 0.05, 0.1, 0.15, 0.05, 0.1, 0.1, 0.05, 0.1, 0.05, 0.1, 0.05, 0.1,
           0.05, 0.1, 0.05, 0.1, 0.05, 0.1]
EGE_ST7 = [0.0, 0.1, 0.2, 0.9, 4.2, 3.6, 8.8, 6.1, 7.9, 3.0, 6.9, 2.8, 6.0, 3.4, 4.5, 4.0, 4.6, 1.7, 3.3, 4.2,
           2.3, 6.1, 2.4, 3.3, 1.5, 3.0, 2.5, 1.9, 3.4, 2.7, 2.6, 4.2, 2.0, 3.8, 6.6,
           8.1, 3.6, 7.5, 7.8, 4.9, 10.4, 12.9, 14.4, 9.1, 13.3, 11.4, 1.1, 8.7, 19.0, 24.9, 22.4, 15.9, 10.9,
           24.7, 8.4, 27.5, 21.1, 19.7, 6.3, 1.7, 5.9, 8.3, 17.0, 6.6, 18.6, 9.7, 3.8, 14.0, 27.5, 22.8, 17.7,
           15.5, 8.4, 2.4, 9.7, 6.1, 9.1, 4.3, 10.4, 13.4, 15.5, 18.8, 12.3, 8.4, 11.7, 3.8, 5.7, 10.9, 14.1,
           9.7, 4.7, 4.1, 2.5, 4.3, 4.6, 2.3, 5.1, 2.1, 3.2, 1.4, 3.2,
           3.4, 1.3, 4.4, 1.7, 3.1, 1.0, 2.7, 2.0, 2.9, 1.2, 3.5, 1.2, 2.9, 1.6, 2.0, 3.3, 1.0, 2.6, 1.7, 0.9,
           2.0, 1.1, 0.7, 1.7, 0.9, 1.3, 0.5, 1.0, 0.6, 0.9, 0.3, 0.7, 0.4, 0.5, 0.2, 0.5, 0.3, 0.2, 0.4, 0.2,
           0.3, 0.2,
           0.1, 0.2, 0.1, 0.15, 0.1, 0.2, 0.05, 0.15, 0.1, 0.05, 0.15, 0.05, 0.1, 0.1, 0.05, 0.1, 0.05, 0.1,
           0.05, 0.1, 0.05, 0.1, 0.05, 0.1]
EGE_ST8 = [0.1, 0.0, 0.3, 0.5, 5.2, 2.2, 13.0, 7.7, 9.1, 2.5, 9.2, 3.2, 7.9, 2.6, 5.9, 3.4, 6.2, 1.9, 2.5, 5.4,
           1.7, 7.7, 2.1, 3.5, 1.1, 3.7, 2.7, 1.3, 4.2, 1.9, 3.1, 5.2, 1.4, 4.7, 7.9,
           9.0, 3.1, 8.2, 8.5, 4.3, 11.3, 14.0, 15.4, 9.8, 14.3, 12.3, 0.6, 9.7, 20.4, 26.6, 23.8, 17.1, 11.8,
           26.2, 9.1, 30.4, 22.5, 21.1, 6.9, 1.2, 6.4, 9.2, 18.2, 7.2, 19.9, 10.4, 3.1, 15.0, 29.0, 24.3, 19.0,
           16.6, 9.1, 1.8, 10.4, 6.7, 9.8, 3.7, 11.2, 14.4, 16.6, 20.0, 13.2, 9.1, 12.6, 3.2, 6.2, 11.8, 15.1,
           10.4, 5.2, 3.5, 2.9, 3.7, 5.1, 1.8, 5.7, 1.6, 3.8, 1.0, 2.9,
           2.6, 3.4, 1.7, 4.0, 1.3, 2.5, 1.8, 3.3, 0.9, 3.4, 1.1, 2.7, 1.8, 2.2, 3.1, 1.1, 2.5, 1.2, 1.4, 2.8,
           1.2, 0.8, 1.8, 1.0, 0.6, 1.4, 0.7, 0.9, 0.5, 1.1, 0.4, 0.6, 0.3, 0.7, 0.4, 0.3, 0.5, 0.2, 0.3, 0.2,
           0.3, 0.2,
           0.15, 0.1, 0.2, 0.1, 0.15, 0.1, 0.1, 0.05, 0.15, 0.1, 0.05, 0.1, 0.1, 0.05, 0.1, 0.05, 0.1, 0.05,
           0.1, 0.05, 0.1, 0.05, 0.1, 0.05]

AMBIENT = [AMB_ST1, AMB_ST2, AMB_ST3, AMB_ST4, AMB_ST5, AMB_ST6, AMB_ST7, AMB_ST8]
BOLU = [BOLU_ST1, BOLU_ST2, BOLU_ST3, BOLU_ST4, BOLU_ST5, BOLU_ST6, BOLU_ST7, BOLU_ST8]
EGE = [EGE_ST1, EGE_ST2, EGE_ST3, EGE_ST4, EGE_ST5, EGE_ST6, EGE_ST7, EGE_ST8]

# ---------------------------------------------------------------- styling
FONT = "Liberation Sans"
TEXT_DARK = "#262626"
AXIS_GRAY = "#808080"
GRID_GRAY = "#e2e2e2"
GROUP_COLORS = ["#ff0000", "#0000ff", "#000000"]
GROUP_WIDTHS = [1.4, 1.1, 1.1]

# legend layout (screen px relative to the plot frame, origin bottom-left)
LEG_X = 838
LEG_BOTTOM = 54
LEG_ROW = 18
LEG_KEY_W = 35

p = figure(width=1024, height=570, output_backend="svg", toolbar_location=None,
           x_range=Range1d(0, 5.01), y_range=Range1d(0, 39.7),
           min_border_left=37, min_border_right=10, min_border_top=33, min_border_bottom=43,
           title=TITLE)
p.background_fill_color = "white"
p.border_fill_color = "white"
p.outline_line_color = AXIS_GRAY
p.outline_line_width = 1

p.title.text_font = FONT
p.title.text_font_size = "18px"
p.title.text_font_style = "bold"
p.title.text_color = "#000000"
p.title.align = "center"
p.title.standoff = 9
p.title.offset = 0

x_overrides = {t: "" for t in X_GRID_TICKS}
for t, s in zip(X_LABELED, X_LABEL_TEXT):
    x_overrides[t] = s

xa = p.xaxis[0]
xa.ticker = FixedTicker(ticks=X_GRID_TICKS)
xa.major_label_overrides = x_overrides
xa.axis_label = X_LABEL
ya = p.yaxis[0]
ya.ticker = FixedTicker(ticks=Y_TICKS)
ya.axis_label = Y_LABEL

for ax in (xa, ya):
    ax.axis_line_color = AXIS_GRAY
    ax.major_tick_line_color = AXIS_GRAY
    ax.major_tick_in = 5
    ax.major_tick_out = 0
    ax.minor_tick_line_color = None
    ax.major_label_text_font = FONT
    ax.major_label_text_font_style = "bold"
    ax.major_label_text_color = TEXT_DARK
    ax.axis_label_text_font = FONT
    ax.axis_label_text_font_style = "bold"
    ax.axis_label_text_color = TEXT_DARK

xa.major_label_text_font_size = "12px"
xa.major_label_standoff = 10
xa.axis_label_text_font_size = "12px"
xa.axis_label_standoff = 3
ya.major_label_text_font_size = "12px"
ya.major_label_standoff = 4
ya.axis_label_text_font_size = "12px"
ya.axis_label_standoff = 1

blank = CustomJSTickFormatter(code="return ''")
top_axis = LinearAxis(ticker=FixedTicker(ticks=X_GRID_TICKS), formatter=blank,
                      major_label_text_font_size="1px", major_label_standoff=0,
                      major_tick_in=5, major_tick_out=0, minor_tick_line_color=None,
                      axis_line_color=AXIS_GRAY, major_tick_line_color=AXIS_GRAY)
right_axis = LinearAxis(ticker=FixedTicker(ticks=Y_TICKS), formatter=blank,
                        major_label_text_font_size="1px", major_label_standoff=0,
                        major_tick_in=5, major_tick_out=0, minor_tick_line_color=None,
                        axis_line_color=AXIS_GRAY, major_tick_line_color=AXIS_GRAY)
p.add_layout(top_axis, "above")
p.add_layout(right_axis, "right")

p.xgrid.ticker = FixedTicker(ticks=X_GRID_TICKS)
p.ygrid.ticker = FixedTicker(ticks=Y_TICKS)
p.xgrid.grid_line_color = GRID_GRAY
p.ygrid.grid_line_color = GRID_GRAY
p.xgrid.grid_line_width = 1
p.ygrid.grid_line_width = 1

# ---------------------------------------------------------------- lines
items = []
key_colors = []


def add_group(name, series, color, width, freq, offsets=None):
    for k, vals in enumerate(series):
        shift = offsets[k] if offsets else 0.0
        xs = [round(f + shift, 4) for f in freq]
        n = min(len(xs), len(vals))
        p.line(xs[:n], vals[:n], line_color=color, line_width=width)
        label = f"{name} {STATIONS[k]}" if k == 0 else f" {STATIONS[k]}"
        items.append(LegendItem(label=label))
        key_colors.append(color)


add_group(GROUPS[0], AMBIENT, GROUP_COLORS[0], GROUP_WIDTHS[0], RED_FREQ, RED_OFFSET)
add_group(GROUPS[1], BOLU, GROUP_COLORS[1], GROUP_WIDTHS[1], BLUE_FREQ)
add_group(GROUPS[2], EGE, GROUP_COLORS[2], GROUP_WIDTHS[2], BLACK_FREQ)

legend = Legend(items=items, location=(LEG_X, LEG_BOTTOM), orientation="vertical",
                background_fill_alpha=0, border_line_alpha=0,
                label_text_font=FONT, label_text_font_size="12px",
                label_text_font_style="bold", label_text_color="#111111",
                glyph_width=LEG_KEY_W, glyph_height=LEG_ROW, label_height=LEG_ROW, label_standoff=5,
                spacing=0, padding=0, margin=0)
p.add_layout(legend)

# legend key lines, one per entry, drawn in the entry's series colour
n_items = len(key_colors)
for i, c in enumerate(key_colors):
    yc = LEG_BOTTOM + (n_items - 1 - i) * LEG_ROW + LEG_ROW / 2
    p.add_layout(BoxAnnotation(left=LEG_X, right=LEG_X + LEG_KEY_W, bottom=yc - 0.5, top=yc + 0.5,
                               left_units="screen", right_units="screen",
                               bottom_units="screen", top_units="screen",
                               fill_color=c, fill_alpha=0.6, line_alpha=0))

open("out.html", "w").write(file_html(p, INLINE))
